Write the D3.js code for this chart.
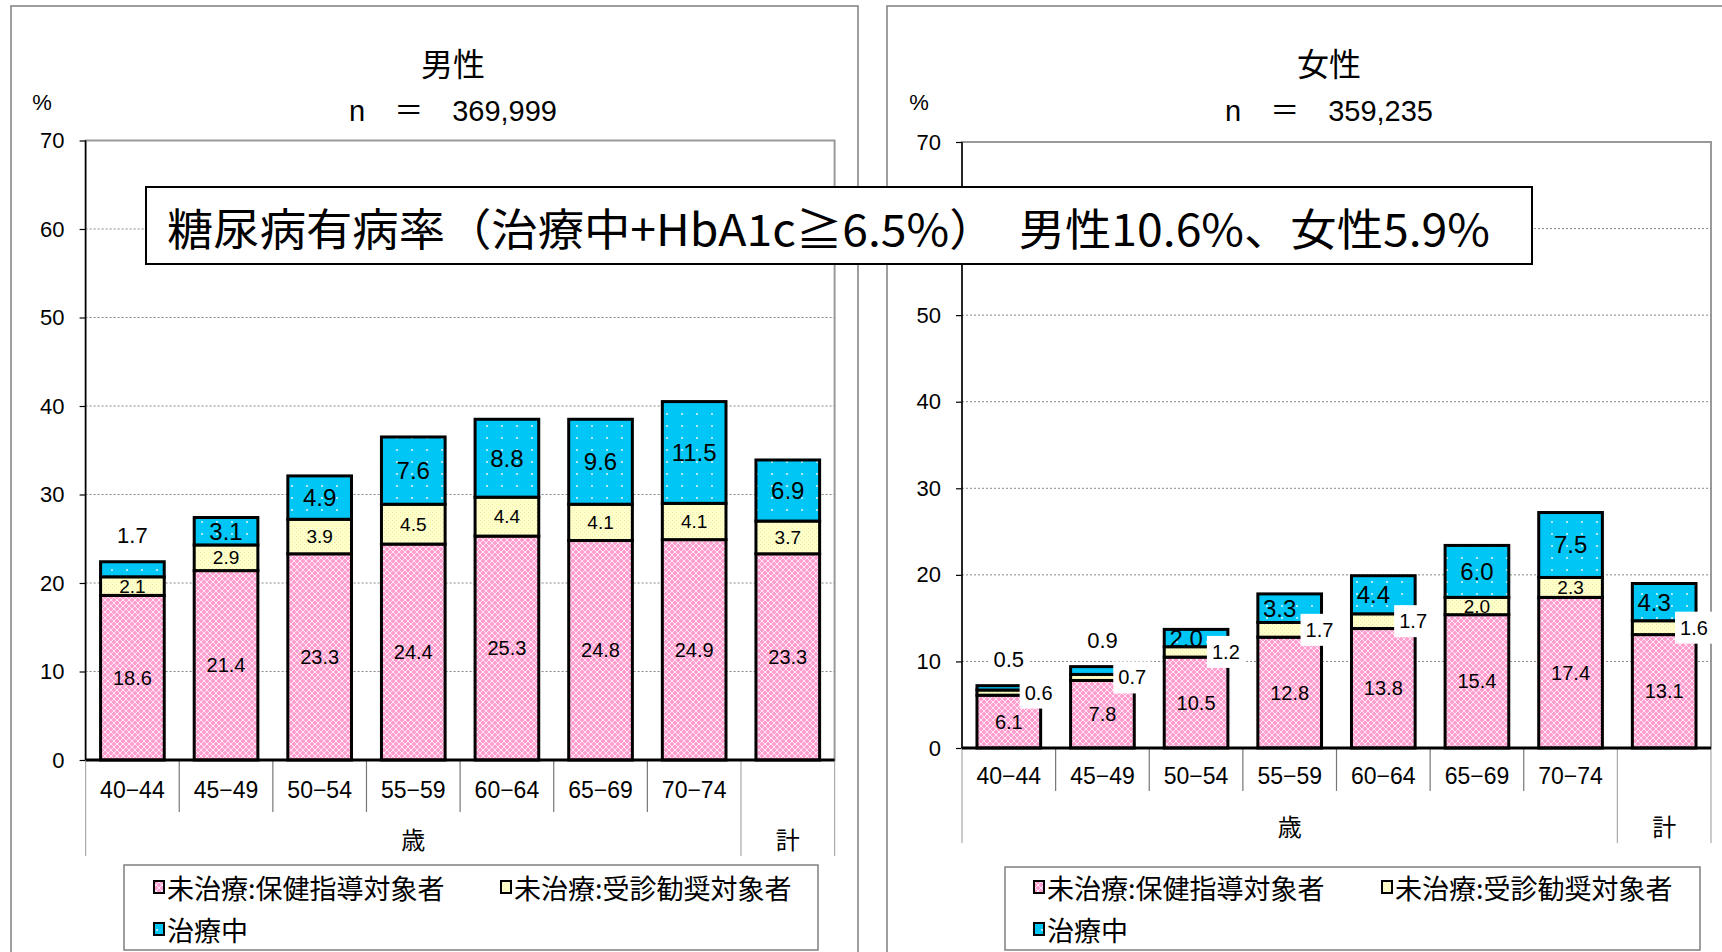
<!DOCTYPE html>
<meta charset="utf-8">
<style>
    body { margin: 0; background: #fff; }
    text { font-family: "Liberation Sans", Arial, "Noto Sans CJK JP", sans-serif; fill: #000; }
    .cjk { font-family: "Noto Sans CJK JP", sans-serif; }
    .grid line { stroke: #888; stroke-dasharray: 2,2; stroke-width: 1; }
    .yaxis path { display: none; }
    .yaxis line { stroke: #000; stroke-width: 1.2; }
    .yaxis text { font-size: 22px; }
</style>
<svg width="1722" height="952"></svg>
<script src="https://d3js.org/d3.v7.min.js"></script>
<script>
    // categories / tick labels
    var ages = ["40-44", "45-49", "50-54", "55-59", "60-64", "65-69", "70-74", "計"];
    var yTicks = [0, 10, 20, 30, 40, 50, 60, 70];
    var seriesNames = ["未治療:保健指導対象者", "未治療:受診勧奨対象者", "治療中"];

    // 男性 n = 369,999
    var maleGuidance = [18.6, 21.4, 23.3, 24.4, 25.3, 24.8, 24.9, 23.3];
    var maleReferral = [2.1, 2.9, 3.9, 4.5, 4.4, 4.1, 4.1, 3.7];
    var maleTreated  = [1.7, 3.1, 4.9, 7.6, 8.8, 9.6, 11.5, 6.9];

    // 女性 n = 359,235
    var femaleGuidance = [6.1, 7.8, 10.5, 12.8, 13.8, 15.4, 17.4, 13.1];
    var femaleReferral = [0.6, 0.7, 1.2, 1.7, 1.7, 2.0, 2.3, 1.6];
    var femaleTreated  = [0.5, 0.9, 2.0, 3.3, 4.4, 6.0, 7.5, 4.3];

    var svg = d3.select("svg");
    var defs = svg.append("defs");

    // fill patterns
    var pPink = defs.append("pattern").attr("id", "pink")
        .attr("patternUnits", "userSpaceOnUse").attr("width", 6).attr("height", 6);
    pPink.append("rect").attr("width", 6).attr("height", 6).attr("fill", "#ff9fd0");
    pPink.append("path").attr("d", "M0,3L3,0L6,3L3,6Z").attr("fill", "none")
        .attr("stroke", "#fff").attr("stroke-width", 1).attr("stroke-opacity", 0.75);

    var pYellow = defs.append("pattern").attr("id", "yellow")
        .attr("patternUnits", "userSpaceOnUse").attr("width", 4).attr("height", 4);
    pYellow.append("rect").attr("width", 4).attr("height", 4).attr("fill", "#ffffcc");
    pYellow.append("rect").attr("x", 0).attr("y", 0).attr("width", 1).attr("height", 1).attr("fill", "#f2eea0");
    pYellow.append("rect").attr("x", 2).attr("y", 2).attr("width", 1).attr("height", 1).attr("fill", "#f2eea0");

    var pCyan = defs.append("pattern").attr("id", "cyan")
        .attr("patternUnits", "userSpaceOnUse").attr("width", 15).attr("height", 12);
    pCyan.append("rect").attr("width", 15).attr("height", 12).attr("fill", "#00c6f5");
    pCyan.append("circle").attr("cx", 7).attr("cy", 6).attr("r", 1.1).attr("fill", "#d8f6ff");

    var fills = ["url(#pink)", "url(#yellow)", "url(#cyan)"];

    function drawPanel(cfg) {
        var g = svg.append("g");

        // panel frame
        g.append("rect").attr("x", cfg.frame[0]).attr("y", cfg.frame[1])
            .attr("width", cfg.frame[2]).attr("height", cfg.frame[3])
            .attr("fill", "none").attr("stroke", "#7f7f7f").attr("stroke-width", 1.5);

        g.append("text").attr("class", "cjk").attr("x", cfg.titleX).attr("y", 62)
            .attr("text-anchor", "middle").attr("dominant-baseline", "central")
            .style("font-size", "32px").text(cfg.title);
        g.append("text").attr("x", cfg.titleX).attr("y", 111)
            .attr("text-anchor", "middle").attr("dominant-baseline", "central")
            .style("font-size", "29px").text(cfg.n);
        g.append("text").attr("x", cfg.pctX).attr("y", 102)
            .attr("text-anchor", "middle").attr("dominant-baseline", "central")
            .style("font-size", "22px").text("%");

        var x = d3.scaleBand().domain(ages).range([cfg.x0, cfg.x1])
            .paddingInner(0.32).paddingOuter(0.16);
        var y = d3.scaleLinear().domain([0, 70]).range([cfg.y0, cfg.y1]);

        // plot area border (gray)
        g.append("rect").attr("x", cfg.x0).attr("y", cfg.y1)
            .attr("width", cfg.x1 - cfg.x0).attr("height", cfg.y0 - cfg.y1)
            .attr("fill", "none").attr("stroke", "#999").attr("stroke-width", 2);

        g.append("g").attr("class", "grid").selectAll("line")
            .data(yTicks.filter(function(d) { return d > 0 && d < 70; }))
            .enter().append("line")
            .attr("x1", cfg.x0).attr("x2", cfg.x1)
            .attr("y1", function(d) { return y(d); }).attr("y2", function(d) { return y(d); });

        // tick labels that sit under the banner are left out (hidden in the original)
        g.append("g").attr("class", "yaxis")
            .attr("transform", "translate(" + cfg.x0 + ",0)")
            .call(d3.axisLeft(y).tickValues(yTicks).tickSize(6).tickSizeOuter(0).tickPadding(15)
                .tickFormat(function(d) { return cfg.hidden.indexOf(d) >= 0 ? "" : d; }));

        g.append("line").attr("x1", cfg.x0).attr("x2", cfg.x0)
            .attr("y1", cfg.y1).attr("y2", cfg.y0).attr("stroke", "#000").attr("stroke-width", 1.5);

        // category separators
        var step = x.step();
        d3.range(0, ages.length + 1).forEach(function(i) {
            var long = (i === 0 || i === ages.length - 1 || i === ages.length);
            g.append("line")
                .attr("x1", cfg.x0 + i * step).attr("x2", cfg.x0 + i * step)
                .attr("y1", cfg.y0).attr("y2", long ? cfg.sepLong : cfg.sepShort)
                .attr("stroke", long ? "#aaa" : "#777").attr("stroke-width", 1.2);
        });

        g.selectAll(".cat").data(ages.slice(0, 7)).enter().append("text")
            .attr("x", function(d) { return x(d) + x.bandwidth() / 2; })
            .attr("y", cfg.catY)
            .attr("text-anchor", "middle").attr("dominant-baseline", "central")
            .style("font-size", "23px").text(function(d) { return d.replace("-", "−"); });

        g.append("text").attr("class", "cjk").attr("x", cfg.x0 + step * 3.5).attr("y", cfg.groupY)
            .attr("text-anchor", "middle").attr("dominant-baseline", "central")
            .style("font-size", "24px").text("歳");
        g.append("text").attr("class", "cjk").attr("x", cfg.x0 + step * 7.5).attr("y", cfg.groupY)
            .attr("text-anchor", "middle").attr("dominant-baseline", "central")
            .style("font-size", "24px").text("計");

        // stacked bars
        var rows = ages.map(function(a, i) {
            return { age: a, vals: [cfg.data[0][i], cfg.data[1][i], cfg.data[2][i]] };
        });
        var stack = d3.stack().keys([0, 1, 2]).value(function(d, k) { return d.vals[k]; });
        var layers = stack(rows);

        layers.forEach(function(layer, k) {
            g.append("g").selectAll("rect").data(layer).enter().append("rect")
                .attr("x", function(d) { return x(d.data.age); })
                .attr("width", x.bandwidth())
                .attr("y", function(d) { return y(d[1]); })
                .attr("height", function(d) { return y(d[0]) - y(d[1]); })
                .attr("fill", fills[k]).attr("stroke", "#000").attr("stroke-width", 3);
        });

        g.append("line").attr("x1", cfg.x0).attr("x2", cfg.x1)
            .attr("y1", cfg.y0).attr("y2", cfg.y0).attr("stroke", "#000").attr("stroke-width", 3);

        // value labels
        var labelSizes = [20, 19, 24];
        var outside = [];
        layers.forEach(function(layer, k) {
            layer.forEach(function(d, i) {
                var v = d.data.vals[k];
                var h = y(d[0]) - y(d[1]);
                var cx = x(d.data.age) + x.bandwidth() / 2;
                var cy = (y(d[0]) + y(d[1])) / 2;
                if (h >= 16) {
                    // make room when the segment below has its label pushed to the right edge
                    var below = layers[1][i];
                    if (k === 2 && y(below[0]) - y(below[1]) < 16) cx -= 10;
                    g.append("text").attr("x", cx).attr("y", cy)
                        .attr("text-anchor", "middle").attr("dominant-baseline", "central")
                        .style("font-size", labelSizes[k] + "px").text(v.toFixed(1));
                } else if (k === 2) {
                    outside.push({ x: cx, y: y(d[1]) - 26, t: v.toFixed(1), s: 22, w: 40, h: 32 });
                } else {
                    outside.push({ x: x(d.data.age) + x.bandwidth() - 2, y: cy, t: v.toFixed(1), s: 20, w: 38, h: 32 });
                }
            });
        });
        outside.forEach(function(o) {
            g.append("rect").attr("x", o.x - o.w / 2).attr("y", o.y - o.h / 2)
                .attr("width", o.w).attr("height", o.h).attr("fill", "#fff");
            g.append("text").attr("x", o.x).attr("y", o.y)
                .attr("text-anchor", "middle").attr("dominant-baseline", "central")
                .style("font-size", o.s + "px").text(o.t);
        });

        // legend
        var L = cfg.legend;
        g.append("rect").attr("x", L.x).attr("y", L.y).attr("width", L.w).attr("height", L.h)
            .attr("fill", "#fff").attr("stroke", "#7f7f7f").attr("stroke-width", 1.5);
        var pos = [[L.cols[0], L.rows[0]], [L.cols[1], L.rows[0]], [L.cols[0], L.rows[1]]];
        seriesNames.forEach(function(name, k) {
            g.append("rect").attr("x", pos[k][0]).attr("y", pos[k][1] - 6)
                .attr("width", 10).attr("height", 12)
                .attr("fill", fills[k]).attr("stroke", "#000").attr("stroke-width", 2);
            g.append("text").attr("class", "cjk").attr("x", pos[k][0] + 13).attr("y", pos[k][1])
                .attr("dominant-baseline", "central").style("font-size", "27px").text(name);
        });
    }

    drawPanel({
        title: "男性", n: "n　＝　369,999", titleX: 453, pctX: 42, hidden: [],
        frame: [11, 6, 847, 980],
        x0: 85.6, x1: 834.6, y0: 760, y1: 140.5,
        catY: 790, groupY: 838, sepShort: 812, sepLong: 856,
        legend: { x: 124, y: 865, w: 694, h: 85, rows: [887, 929], cols: [154, 501] },
        data: [maleGuidance, maleReferral, maleTreated]
    });

    drawPanel({
        title: "女性", n: "n　＝　359,235", titleX: 1329, pctX: 919, hidden: [60],
        frame: [887, 6, 900, 980],
        x0: 962, x1: 1711, y0: 748, y1: 142,
        catY: 776, groupY: 825, sepShort: 791, sepLong: 843,
        legend: { x: 1005, y: 867, w: 695, h: 83, rows: [887, 929], cols: [1034, 1382] },
        data: [femaleGuidance, femaleReferral, femaleTreated]
    });

    // banner
    svg.append("rect").attr("x", 146).attr("y", 187).attr("width", 1386).attr("height", 77)
        .attr("fill", "#fff").attr("stroke", "#000").attr("stroke-width", 2);
    svg.append("text").attr("class", "cjk").attr("x", 167).attr("y", 227)
        .attr("dominant-baseline", "central").style("font-size", "44px")
        .attr("textLength", 1323).attr("lengthAdjust", "spacingAndGlyphs")
        .text("糖尿病有病率（治療中+HbA1c≧6.5%）　男性10.6%、女性5.9%");
</script>
